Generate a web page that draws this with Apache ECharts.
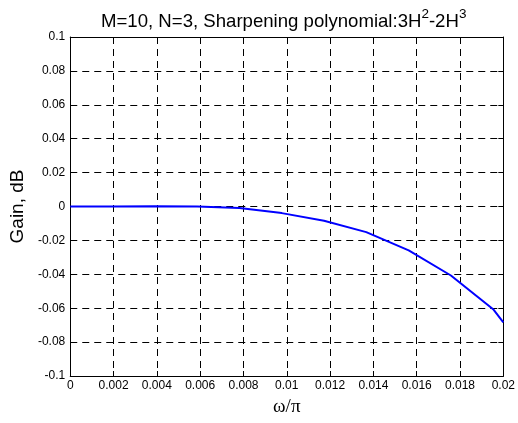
<!DOCTYPE html>
<html>
<head>
<meta charset="utf-8">
<script src="https://cdn.jsdelivr.net/npm/echarts@6/dist/echarts.min.js"></script>
<style>html,body{margin:0;padding:0;background:#fff;}#c{width:518px;height:423px;}</style>
</head>
<body>
<div id="c"></div>
<script>
// frequency points (omega/pi) and gain (dB)
const freq = [0, 0.00195, 0.0039, 0.00586, 0.00781, 0.00977, 0.01172, 0.01367, 0.01563, 0.01758, 0.01953, 0.02];
const gain = [0, 0, 0.0001, 0, -0.0009, -0.0039, -0.0084, -0.0151, -0.0259, -0.0407, -0.0606, -0.0684];
const xTickLabels = ['0', '0.002', '0.004', '0.006', '0.008', '0.01', '0.012', '0.014', '0.016', '0.018', '0.02'];
const yTickLabels = ['-0.1', '-0.08', '-0.06', '-0.04', '-0.02', '0', '0.02', '0.04', '0.06', '0.08', '0.1'];
const titleMain1 = 'M=10, N=3, Sharpening polynomial:3H';
const titleSup1 = '2';
const titleMain2 = '-2H';
const titleSup2 = '3';

const FONT = 'Liberation Sans, Arial, Helvetica, sans-serif';
const xStep = 0.002, yStep = 0.02;
const chart = echarts.init(document.getElementById('c'), null, {renderer: 'canvas'});
const gridDash = {color: '#000', width: 1, type: [7, 5]};
const tickStyle = {show: true, inside: true, length: 5, lineStyle: {color: '#000', width: 1}};
const lineStyleBox = {show: true, onZero: false, lineStyle: {color: '#000', width: 1}};

chart.setOption({
  animation: false,
  backgroundColor: '#fff',
  title: {
    text: '{a|' + titleMain1 + '}{s|' + titleSup1 + '}{a|' + titleMain2 + '}{s|' + titleSup2 + '}',
    left: 101, top: 7, padding: 0,
    textStyle: {
      fontWeight: 'normal',
      rich: {
        a: {fontSize: 18.6, fontWeight: 'normal', fontFamily: FONT, color: '#000', lineHeight: 24, verticalAlign: 'bottom'},
        s: {fontSize: 13.5, fontWeight: 'normal', fontFamily: FONT, color: '#000', lineHeight: 10, verticalAlign: 'top'}
      }
    }
  },
  grid: {left: 70, right: 14, top: 37, bottom: 47, containLabel: false},
  xAxis: [{
    type: 'value', min: 0, max: 0.02, interval: xStep, position: 'bottom',
    name: 'ω/π', nameLocation: 'middle', nameGap: 22,
    nameTextStyle: {fontFamily: 'Liberation Serif, Times New Roman, serif', fontSize: 19, color: '#000'},
    axisLine: lineStyleBox, axisTick: tickStyle,
    axisLabel: {color: '#000', fontSize: 12, fontFamily: FONT, margin: 4,
      formatter: v => xTickLabels[Math.round(v / xStep)]},
    splitLine: {show: true, lineStyle: gridDash}
  }, {
    type: 'value', min: 0, max: 0.02, interval: xStep, position: 'top',
    axisLine: lineStyleBox, axisTick: tickStyle, axisLabel: {show: false}, splitLine: {show: false}
  }],
  yAxis: [{
    type: 'value', min: -0.1, max: 0.1, interval: yStep, position: 'left',
    name: 'Gain, dB', nameLocation: 'middle', nameGap: 40,
    nameTextStyle: {fontFamily: FONT, fontSize: 19, color: '#000'},
    axisLine: lineStyleBox, axisTick: tickStyle,
    axisLabel: {color: '#000', fontSize: 12, fontFamily: FONT, margin: 5,
      formatter: v => yTickLabels[Math.round((v + 0.1) / yStep)]},
    splitLine: {show: true, lineStyle: gridDash}
  }, {
    type: 'value', min: -0.1, max: 0.1, interval: yStep, position: 'right',
    axisLine: lineStyleBox, axisTick: tickStyle, axisLabel: {show: false}, splitLine: {show: false}
  }],
  series: [{
    type: 'line',
    data: freq.map((f, i) => [f, gain[i]]),
    showSymbol: false, symbol: 'none',
    lineStyle: {color: '#0000ff', width: 2},
    xAxisIndex: 0, yAxisIndex: 0,
    clip: true
  }]
});
</script>
</body>
</html>
